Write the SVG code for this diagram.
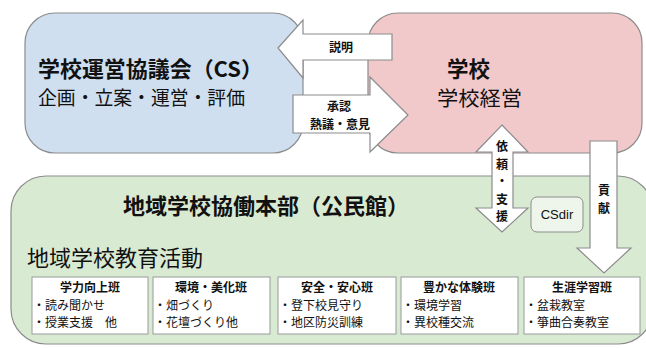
<svg xmlns="http://www.w3.org/2000/svg" width="646" height="349" viewBox="0 0 646 349">
<style>
text{font-family:"Noto Sans CJK JP","Noto Sans",sans-serif;fill:#111}
.box{stroke:#8c8c8c;stroke-width:1.2}
.arrow{fill:#ffffff;stroke:#8c8c8c;stroke-width:1.2;stroke-linejoin:miter}
.act{fill:#ffffff;stroke:#9a9a9a;stroke-width:1}
.b{font-weight:bold}
.lbl{font-size:12px;font-weight:bold;text-anchor:middle}
.item{font-size:12px}
.ttl{font-size:12px;font-weight:bold;text-anchor:middle}
</style>
<rect width="646" height="349" fill="#ffffff"/>
<g id="cs">
<rect class="box" x="25" y="13" width="278" height="140" rx="30" fill="#cfdff0"/>
<text class="b" x="38" y="77" font-size="21.5" textLength="225" lengthAdjust="spacingAndGlyphs">学校運営協議会（CS）</text>
<text x="38" y="105" font-size="19" textLength="207" lengthAdjust="spacingAndGlyphs">企画・立案・運営・評価</text>
</g>
<g id="school">
<rect class="box" x="368" y="13" width="274" height="140" rx="30" fill="#f2c9cb"/>
<text class="b" x="447" y="77" font-size="21.5">学校</text>
<text x="437" y="106" font-size="20" textLength="85" lengthAdjust="spacingAndGlyphs">学校経営</text>
</g>
<g id="honbu">
<rect class="box" x="11" y="176" width="642" height="168" rx="35" fill="#d9ead3"/>
<text class="b" x="123" y="214" font-size="22">地域学校協働本部（公民館）</text>
<text x="27" y="266" font-size="22">地域学校教育活動</text>
</g>
<g id="connectors">
<polygon class="arrow" points="278,48 303,20 303,34 392,34 392,60 303,60 303,78"/>
<text class="lbl" x="341" y="52" font-size="13">説明</text>
<polygon class="arrow" points="293,95 370,95 370,77 408,115 370,152 370,133 293,133"/>
<text class="lbl" x="339" y="111">承認</text>
<text class="lbl" x="340" y="128.5">熱議・意見</text>
<polygon class="arrow" points="502,125 528,152 513,152 513,208 528,208 502,232 476,208 492,208 492,152 476,152"/>
<text class="lbl" x="502" y="151">依</text>
<text class="lbl" x="502" y="168.5">頼</text>
<text class="lbl" x="502" y="186">・</text>
<text class="lbl" x="502" y="203.5">支</text>
<text class="lbl" x="502" y="221">援</text>
<polygon class="arrow" points="590,141 617,141 617,248 631,248 604,273 577,248 590,248"/>
<text class="lbl" x="604" y="195">貢</text>
<text class="lbl" x="604" y="212.5">献</text>
</g>
<g id="csdir">
<rect x="531" y="197" width="52" height="35" rx="6" fill="#eef5ea" stroke="#8c8c8c" stroke-width="1"/>
<text x="557" y="219" font-size="13" text-anchor="middle" style="font-family:'Liberation Sans',Arial,sans-serif">CSdir</text>
</g>
<g id="gakuryoku">
<rect class="act" x="32" y="277" width="116" height="57"/>
<text class="ttl" x="90" y="292">学力向上班</text>
<text class="item" x="33" y="309.5">・読み聞かせ</text>
<text class="item" x="33" y="327">・授業支援　他</text>
</g>
<g id="kankyo">
<rect class="act" x="153" y="277" width="117" height="57"/>
<text class="ttl" x="211" y="292">環境・美化班</text>
<text class="item" x="154" y="309.5">・畑づくり</text>
<text class="item" x="154" y="327">・花壇づくり他</text>
</g>
<g id="anzen">
<rect class="act" x="278" y="277" width="118" height="57"/>
<text class="ttl" x="337" y="292">安全・安心班</text>
<text class="item" x="279" y="309.5">・登下校見守り</text>
<text class="item" x="279" y="327">・地区防災訓練</text>
</g>
<g id="taiken">
<rect class="act" x="401" y="277" width="117" height="57"/>
<text class="ttl" x="459" y="292">豊かな体験班</text>
<text class="item" x="402" y="309.5">・環境学習</text>
<text class="item" x="402" y="327">・異校種交流</text>
</g>
<g id="shogai">
<rect class="act" x="524" y="277" width="116" height="57"/>
<text class="ttl" x="582" y="292">生涯学習班</text>
<text class="item" x="525" y="309.5">・盆栽教室</text>
<text class="item" x="525" y="327">・箏曲合奏教室</text>
</g>
</svg>
